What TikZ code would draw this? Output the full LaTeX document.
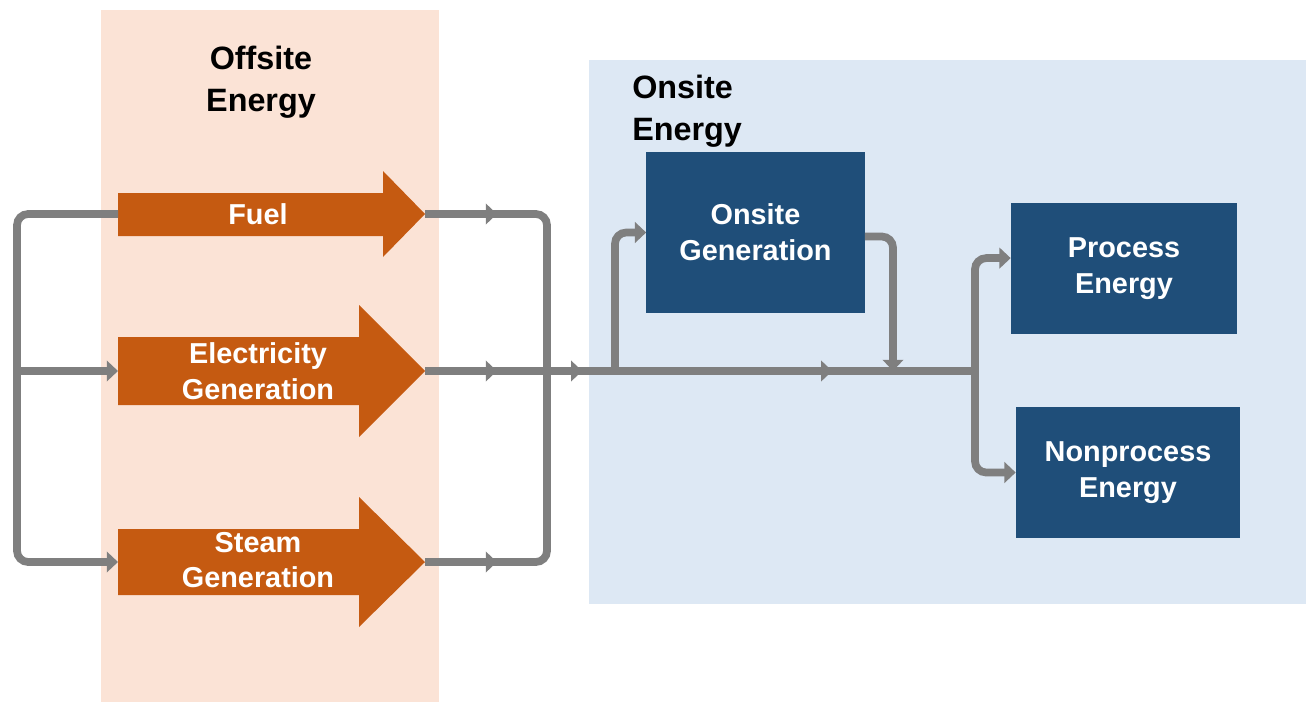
\documentclass[tikz,border=0pt]{standalone}
\usepackage{fontspec}
\setmainfont{Liberation Sans}
\usetikzlibrary{positioning,arrows.meta,decorations.markings}
\definecolor{offsitebg}{HTML}{FBE3D6}
\definecolor{onsitebg}{HTML}{DDE8F4}
\definecolor{fuelorange}{HTML}{C55A11}
\definecolor{boxblue}{HTML}{1F4E79}
\definecolor{flowgray}{HTML}{7F7F7F}

\begin{document}
\begin{tikzpicture}[
    x=0.025cm, y=-0.025cm, >={Triangle[width=14.5pt,length=8pt]},
    every node/.style={align=center, font=\bfseries\fontsize{20.5}{25.5}\selectfont},
    title/.style={font=\bfseries\fontsize{23}{30}\selectfont, inner sep=0pt},
    supply/.style={text=white},
    blockbox/.style={fill=boxblue, text=white, minimum width=5.45cm, minimum height=4.03cm},
    flow/.style={draw, color=flowgray, line width=5.5pt, rounded corners=0.28cm},
    tick at/.style={postaction={decorate, decoration={markings, mark=at position #1 with {\arrow{>}}}}},
]
\useasboundingbox (0,0) rectangle (1306,702);
% backgrounds
\fill[offsitebg] (101,10) rectangle (439,702);
\fill[onsitebg] (589,60) rectangle (1306,604);
\node[title] (offsite) at (261,82) {Offsite\\Energy};
\node[title, anchor=west, align=left] (onsite) at (632,111) {Onsite\\Energy};

% offsite supply arrows
\fill[fuelorange] (118,193) -- (383,193) -- (383,171) -- (425,214) -- (383,257) -- (383,236) -- (118,236) -- cycle;
\fill[fuelorange] (118,337) -- (359,337) -- (359,305) -- (425,371) -- (359,437) -- (359,405) -- (118,405) -- cycle;
\fill[fuelorange] (118,529) -- (359,529) -- (359,497) -- (425,562) -- (359,627) -- (359,595) -- (118,595) -- cycle;
\node[supply] (fuel) at (258,214) {Fuel};
\node[supply] (elec) at (258,371) {Electricity\\Generation};
\node[supply] (steam) at (258,560) {Steam\\Generation};
\coordinate (fueltail) at (118,214);
\coordinate (electail) at (118,371);
\coordinate (steamtail) at (118,562);
\coordinate (fueltip) at (425,214);
\coordinate (electip) at (425,371);
\coordinate (steamtip) at (425,562);

% onsite blocks
\node[blockbox] (ongen) at (755.5,232.5) {Onsite\\Generation};
\node[blockbox, minimum width=5.65cm, minimum height=3.28cm] (process) at (1124,268.5) {Process\\Energy};
\node[blockbox, minimum width=5.6cm, minimum height=3.28cm] (nonprocess) at (1128,472.5) {Nonprocess\\Energy};

% flows
\coordinate (lbus) at (17,371);
\coordinate (rbus) at (547,371);
\coordinate (branch) at (615,371);
\coordinate (merge) at (893,371);
\coordinate (split) at (975,371);

\draw[flow, ->] (fueltail) -| (lbus) |- (steamtail);
\draw[flow, ->] (lbus) -- (electail);
\draw[flow, tick at=1.8cm] (fueltip) -| (rbus);
\draw[flow, tick at=1.8cm] (steamtip) -| (rbus);
\draw[flow, tick at=1.8cm, tick at=3.93cm, tick at=10.18cm] (electip) -- (split);
\draw[flow, ->] (branch) |- (ongen.west);
\draw[flow, ->] ([yshift=-0.1cm]ongen.east) -| (merge);
\draw[flow, ->] (split) |- ([yshift=0.26cm]process.west);
\draw[flow, ->] (split) |- (nonprocess.west);
\end{tikzpicture}
\end{document}
